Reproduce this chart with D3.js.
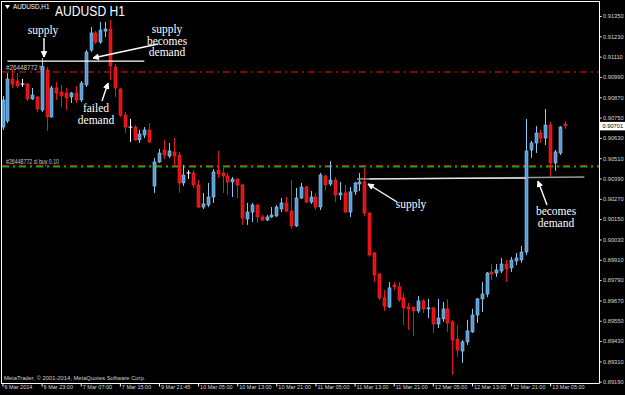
<!DOCTYPE html>
<html><head><meta charset="utf-8">
<script src="https://cdn.jsdelivr.net/npm/d3@7"></script>
<style>html,body{margin:0;padding:0;background:#000;overflow:hidden}</style>
</head><body>
<svg id="c" width="625" height="395"></svg>
<script>
// ---- data (AUDUSD H1, 6–13 Mar 2014) ----
const opens  = [.90694,.90730,.90978,.90966,.90948,.90948,.90860,.90872,.90795,.91031,.90754,.90925,.90901,.90895,.90872,.90895,.90854,.90943,.91149,.91250,.91196,.91261,.91273,.91049,.90919,.90765,.90694,.90694,.90618,.90647,.90677,.90346,.90488,.90559,.90523,.90547,.90529,.90364,.90423,.90423,.90352,.90222,.90234,.90281,.90440,.90423,.90405,.90370,.90387,.90352,.90151,.90192,.90234,.90163,.90145,.90163,.90169,.90210,.90246,.90198,.90110,.90275,.90340,.90251,.90281,.90222,.90405,.90358,.90381,.90293,.90305,.90192,.90311,.90358,.90370,.90186,.89950,.89826,.89685,.89631,.89761,.89750,.89685,.89631,.89631,.89608,.89667,.89620,.89626,.89531,.89561,.89620,.89543,.89442,.89371,.89425,.89484,.89584,.89679,.89708,.89838,.89832,.89844,.89885,.89862,.89903,.89909,.89956,.90559,.90600,.90659,.90629,.90706,.90482,.90541,.90712];
const highs  = [.90878,.91013,.91031,.91013,.90978,.90954,.90925,.90878,.91102,.91049,.90937,.90960,.90943,.90925,.90901,.90937,.90966,.91149,.91285,.91261,.91315,.91315,.91326,.91067,.90925,.90783,.90742,.90706,.90677,.90694,.90718,.90511,.90565,.90618,.90600,.90629,.90547,.90470,.90440,.90440,.90381,.90305,.90364,.90446,.90553,.90452,.90423,.90399,.90393,.90358,.90246,.90246,.90240,.90175,.90175,.90222,.90234,.90275,.90281,.90381,.90334,.90364,.90346,.90316,.90305,.90423,.90411,.90494,.90399,.90370,.90352,.90340,.90370,.90423,.90452,.90192,.89956,.89832,.89732,.89779,.89779,.89779,.89714,.89655,.89631,.89696,.89679,.89679,.89631,.89679,.89661,.89679,.89555,.89525,.89436,.89555,.89620,.89685,.89779,.89838,.89885,.89885,.89921,.89909,.89927,.89950,.89992,.90742,.90612,.90700,.90677,.90801,.90724,.90559,.90700,.90730];
const lows   = [.90677,.90718,.90925,.90925,.90931,.90848,.90854,.90783,.90783,.90671,.90748,.90854,.90813,.90795,.90836,.90836,.90842,.90931,.91137,.91185,.91185,.91226,.90972,.90872,.90754,.90659,.90606,.90612,.90600,.90629,.90600,.90305,.90482,.90505,.90511,.90470,.90305,.90346,.90387,.90334,.90216,.90210,.90222,.90246,.90393,.90305,.90293,.90281,.90275,.90116,.90116,.90133,.90128,.90139,.90139,.90157,.90163,.90192,.90192,.90092,.90104,.90269,.90246,.90240,.90204,.90204,.90322,.90346,.90251,.90263,.90186,.90163,.90293,.90316,.90169,.89927,.89779,.89673,.89608,.89626,.89732,.89661,.89525,.89496,.89460,.89596,.89596,.89566,.89478,.89507,.89543,.89484,.89230,.89336,.89301,.89407,.89478,.89537,.89602,.89690,.89791,.89809,.89832,.89779,.89838,.89879,.89891,.89939,.90511,.90541,.90600,.90588,.90393,.90435,.90529,.90683];
const closes = [.90854,.90978,.90948,.90937,.90948,.90860,.90883,.90801,.91049,.90754,.90925,.90895,.90878,.90866,.90895,.90854,.90954,.91137,.91250,.91196,.91267,.91273,.91055,.90925,.90765,.90694,.90694,.90618,.90653,.90677,.90606,.90488,.90541,.90529,.90553,.90523,.90364,.90411,.90423,.90352,.90222,.90240,.90281,.90429,.90417,.90405,.90370,.90387,.90352,.90157,.90192,.90234,.90163,.90145,.90163,.90175,.90222,.90246,.90198,.90110,.90275,.90340,.90251,.90281,.90222,.90411,.90352,.90381,.90293,.90305,.90192,.90311,.90364,.90370,.90186,.89939,.89820,.89685,.89637,.89744,.89750,.89673,.89626,.89620,.89608,.89667,.89620,.89626,.89531,.89566,.89620,.89537,.89436,.89377,.89425,.89490,.89584,.89679,.89708,.89832,.89826,.89850,.89885,.89856,.89909,.89921,.89956,.90553,.90600,.90659,.90629,.90706,.90482,.90547,.90694,.90701];
const priceTicks = [0.91350,0.91230,0.91110,0.90990,0.90870,0.90750,0.90630,0.90510,0.90390,0.90270,0.90150,0.90030,0.89910,0.89790,0.89670,0.89550,0.89430,0.89310,0.89190];
const timeTickBars = [0,8,16,24,32,40,48,56,64,72,80,88,96,104,112];
const timeLabels = ["6 Mar 2014","6 Mar 23:00","7 Mar 07:00","7 Mar 15:00","9 Mar 21:45","10 Mar 05:00","10 Mar 13:00","10 Mar 21:00","11 Mar 05:00","11 Mar 13:00","11 Mar 21:00","12 Mar 05:00","12 Mar 13:00","12 Mar 21:00","13 Mar 05:00"];
const dojiBars = [4,26,38];
const tpPrice = 0.91019, slPrice = 0.90464, currentPrice = 0.90701;
// trend/level lines: [startBar, startPrice, endBar, endPrice]
const supplyLine = [1, 0.91084, 29, 0.91084];
const demandLine = [72.5, 0.90387, 119, 0.90399];
const demandLineHi = [75, 0.90388, 107, 0.90393];

const svg = d3.select("#c");
const W=625,H=395, plotR=599, plotB=383;
const x = d3.scaleLinear().domain([0,115]).range([2.5, 2.5+115*4.89]);
const y = d3.scaleLinear().domain([0.89190,0.91350]).range([381.7,16]);

svg.append("rect").attr("width",W).attr("height",H).attr("fill","#000");

// level lines
svg.append("line").attr("x1",2).attr("x2",plotR).attr("y1",y(tpPrice)).attr("y2",y(tpPrice))
  .attr("stroke","#7a0a0a").attr("stroke-width",2).attr("stroke-dasharray","7,4,2,4");
svg.append("line").attr("x1",2).attr("x2",plotR).attr("y1",y(slPrice)+0.5).attr("y2",y(slPrice)+0.5)
  .attr("stroke","#00b400").attr("stroke-width",2).attr("stroke-dasharray","7,4,2,4");
svg.append("line").attr("x1",2).attr("x2",plotR).attr("y1",y(slPrice)-0.5).attr("y2",y(slPrice)-0.5)
  .attr("stroke","#cc1010").attr("stroke-width",1).attr("stroke-dasharray","7,4,2,4");

const small = "'Liberation Sans', Arial, sans-serif";
svg.append("text").attr("x",6).attr("y",y(tpPrice)-2).text("#26448772 tp")
  .attr("fill","#c8c8c8").attr("font-family",small).attr("font-size",6.3);
svg.append("text").attr("x",6).attr("y",y(slPrice)-2).text("#26448772 sl buy 0.10")
  .attr("fill","#c8c8c8").attr("font-family",small).attr("font-size",6.3)
  .attr("textLength",53).attr("lengthAdjust","spacingAndGlyphs");

// candles
const data = opens.map((o,i)=>({i,o,h:highs[i],l:lows[i],c:closes[i]}));
const cg = svg.append("g");
data.forEach(d=>{
  const doji = dojiBars.includes(d.i);
  const bull = d.c>=d.o;
  const wick = doji ? "#ffffff" : (bull ? "#8cc8f0" : "#e81515");
  const cx = Math.round(x(d.i))+0.5;
  cg.append("line").attr("x1",cx).attr("x2",cx).attr("y1",y(d.h)).attr("y2",y(d.l))
    .attr("stroke",wick).attr("stroke-width",1);
  const top = y(Math.max(d.o,d.c)), bot = y(Math.min(d.o,d.c));
  if (doji) {
    cg.append("line").attr("x1",cx-2).attr("x2",cx+2).attr("y1",top).attr("y2",top)
      .attr("stroke","#ffffff").attr("stroke-width",1);
  } else {
    cg.append("rect").attr("x",cx-1.5).attr("width",3).attr("y",top).attr("height",Math.max(1,bot-top))
      .attr("fill", bull ? "#5a9ad4" : "#e01010")
      .attr("stroke", bull ? "#8cc8f0" : "#ff2a2a").attr("stroke-width",0.6);
  }
});

// drawn lines
function seg(a,col,w){
  svg.append("line").attr("x1",x(a[0])).attr("y1",y(a[1])).attr("x2",x(a[2])).attr("y2",y(a[3]))
    .attr("stroke",col).attr("stroke-width",w);
}
seg(supplyLine,"#ffffff",1.2);
seg(demandLine,"#9a9a9a",1.5);
seg(demandLineHi,"#e6e6e6",1.2);

// annotations
const serif = "'Liberation Serif','Times New Roman',serif";
function label(lines, cx, y0, dy){
  lines.forEach((t,k)=>svg.append("text").attr("x",cx).attr("y",y0+k*dy).attr("text-anchor","middle")
    .attr("fill","#fff").attr("font-family",serif).attr("font-size",11.5).text(t));
}
function arrow(x1,y1,x2,y2){
  svg.append("line").attr("x1",x1).attr("y1",y1).attr("x2",x2).attr("y2",y2)
    .attr("stroke","#fff").attr("stroke-width",1.4);
  const a=Math.atan2(y2-y1,x2-x1), L=6, s=0.45;
  const p=[[x2-L*Math.cos(a-s),y2-L*Math.sin(a-s)],[x2,y2],[x2-L*Math.cos(a+s),y2-L*Math.sin(a+s)]];
  svg.append("path").attr("d","M"+p.map(q=>q.join(",")).join("L")+"Z").attr("fill","#fff").attr("stroke","#fff").attr("stroke-width",1);
}
label(["supply"],43,34,12);
arrow(44,38,44,57);
label(["supply","becomes","demand"],167,33,11.5);
arrow(158,44,93,58);
label(["failed","demand"],96,112,11.5);
arrow(102,101,108,83);
label(["supply"],411,208,12);
arrow(397,202,368,184);
label(["becomes","demand"],556,215,11.5);
arrow(547,205,538,181);

// frame
svg.append("line").attr("x1",1.5).attr("x2",1.5).attr("y1",1).attr("y2",plotB).attr("stroke","#fff");
svg.append("line").attr("x1",1).attr("x2",plotR).attr("y1",1.5).attr("y2",1.5).attr("stroke","#fff");
svg.append("line").attr("x1",1).attr("x2",plotR+0.5).attr("y1",plotB+0.5).attr("y2",plotB+0.5).attr("stroke","#fff");
svg.append("line").attr("x1",plotR+0.5).attr("x2",plotR+0.5).attr("y1",1).attr("y2",plotB+0.5).attr("stroke","#fff");

// right price axis
const yAxis = d3.axisRight(y).tickValues(priceTicks).tickFormat(d3.format(".5f")).tickSize(2).tickPadding(1.5);
const ya = svg.append("g").attr("transform",`translate(${plotR+0.5},0)`).call(yAxis);
ya.select(".domain").remove();
ya.selectAll("line").attr("stroke","#fff");
ya.selectAll("text").attr("fill","#d8d8d8").attr("font-family",small).attr("font-size",5.7);

// current price marker
const cp = svg.append("g");
cp.append("rect").attr("x",plotR+1).attr("y",y(currentPrice)-4).attr("width",W-plotR).attr("height",8.5).attr("fill","#fff");
cp.append("text").attr("x",plotR+3.5).attr("y",y(currentPrice)+2.3).text(d3.format(".5f")(currentPrice))
  .attr("fill","#000").attr("font-family",small).attr("font-size",5.7);

// bottom time axis
const xAxis = d3.axisBottom(x).tickValues(timeTickBars).tickFormat((d,k)=>timeLabels[k]).tickSize(3).tickPadding(0);
const xa = svg.append("g").attr("transform",`translate(0,${plotB+0.5})`).call(xAxis);
xa.select(".domain").remove();
xa.selectAll("line").attr("stroke","#fff");
xa.selectAll("text").attr("fill","#d8d8d8").attr("font-family",small).attr("font-size",5.5)
  .attr("text-anchor","start").attr("dx",1.5).attr("dy","0.5em");

// titles
svg.append("path").attr("d","M5,5 L10,5 L7.5,9 Z").attr("fill","#fff");
svg.append("text").attr("x",13).attr("y",9).text("AUDUSD,H1").attr("fill","#fff").attr("font-family",small).attr("font-size",6.3);
svg.append("text").attr("x",55).attr("y",16).text("AUDUSD H1").attr("fill","#fff").attr("font-family",small).attr("font-size",14)
  .attr("textLength",70).attr("lengthAdjust","spacingAndGlyphs");
svg.append("text").attr("x",4).attr("y",380).text("MetaTrader, \u00a9 2001-2014, MetaQuotes Software Corp.")
  .attr("fill","#d0d0d0").attr("font-family",small).attr("font-size",5.8);
</script>
</body></html>
